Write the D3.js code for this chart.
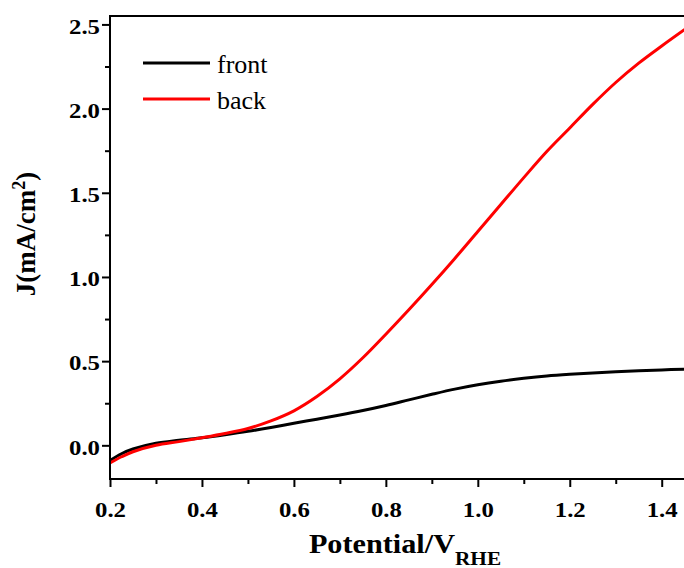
<!DOCTYPE html>
<html>
<head>
<meta charset="utf-8">
<script src="https://cdn.jsdelivr.net/npm/d3@7"></script>
<style>
  body { margin: 0; background: #fff; }
  svg { display: block; }
  .stretch { transform-box: fill-box; transform-origin: center; }
</style>
</head>
<body>
<script>
/* ------------------------------- Data ------------------------------- */
const seriesNames = ["front", "back"];
const seriesColors = ["#000000", "#ff0000"];

const potential = [0.20, 0.225, 0.25, 0.30, 0.35, 0.40, 0.45, 0.50, 0.55, 0.60, 0.65, 0.70, 0.75,
  0.80, 0.85, 0.90, 0.95, 1.00, 1.05, 1.10, 1.15, 1.20, 1.25, 1.30, 1.35, 1.40, 1.45];

const jFront = [-0.090, -0.050, -0.022, 0.012, 0.030, 0.045, 0.063, 0.083, 0.106, 0.131, 0.155, 0.180, 0.207,
  0.237, 0.270, 0.303, 0.334, 0.360, 0.381, 0.398, 0.412, 0.422, 0.430, 0.437, 0.443, 0.448, 0.452];

const jBack = [-0.105, -0.068, -0.038, 0.000, 0.022, 0.045, 0.070, 0.100, 0.145, 0.205, 0.290, 0.395, 0.520,
  0.660, 0.805, 0.955, 1.110, 1.270, 1.430, 1.590, 1.745, 1.885, 2.025, 2.155, 2.270, 2.372, 2.470];

const xTicks = [0.2, 0.4, 0.6, 0.8, 1.0, 1.2, 1.4];
const xMinor = [0.3, 0.5, 0.7, 0.9, 1.1, 1.3];
const yTicks = [0.0, 0.5, 1.0, 1.5, 2.0, 2.5];
const yMinor = [0.25, 0.75, 1.25, 1.75, 2.25];

/* ------------------------------ Layout ------------------------------ */
const width = 684, height = 568;
const plot = { left: 110, right: 687, top: 16, bottom: 479 };

const svg = d3.select("body").append("svg")
  .attr("width", width)
  .attr("height", height);

const x = d3.scaleLinear().domain([0.2, 1.455]).range([plot.left, plot.right]);
const y = d3.scaleLinear().domain([-0.2, 2.55]).range([plot.bottom, plot.top]);

svg.append("clipPath").attr("id", "clip")
  .append("rect")
  .attr("x", plot.left).attr("y", plot.top)
  .attr("width", plot.right - plot.left).attr("height", plot.bottom - plot.top);

/* ------------------------------ Curves ------------------------------ */
const series = [jFront, jBack].map((vals, i) => ({
  name: seriesNames[i],
  color: seriesColors[i],
  values: potential.map((p, k) => ({ x: p, y: vals[k] }))
}));

const line = d3.line()
  .x(d => x(d.x))
  .y(d => y(d.y))
  .curve(d3.curveCatmullRom.alpha(0.5));

svg.append("g")
  .attr("clip-path", "url(#clip)")
  .selectAll("path")
  .data(series)
  .join("path")
  .attr("fill", "none")
  .attr("stroke", d => d.color)
  .attr("stroke-width", 3)
  .attr("stroke-linejoin", "round")
  .attr("d", d => line(d.values));

/* ------------------------------- Axes ------------------------------- */
const tickFont = "'Liberation Serif', 'Times New Roman', Times, serif";

const xAxis = svg.append("g")
  .attr("transform", `translate(0,${plot.bottom})`)
  .call(d3.axisBottom(x).tickValues(xTicks).tickSize(8).tickFormat(d3.format(".1f")));
svg.append("g")
  .attr("transform", `translate(0,${plot.bottom})`)
  .call(d3.axisBottom(x).tickValues(xMinor).tickSize(5).tickFormat(""));

const yAxis = svg.append("g")
  .attr("transform", `translate(${plot.left},0)`)
  .call(d3.axisLeft(y).tickValues(yTicks).tickSize(8).tickFormat(d3.format(".1f")));
svg.append("g")
  .attr("transform", `translate(${plot.left},0)`)
  .call(d3.axisLeft(y).tickValues(yMinor).tickSize(5).tickFormat(""));

svg.selectAll(".domain").remove();
svg.selectAll(".tick line").attr("stroke", "#000").attr("stroke-width", 2);

xAxis.selectAll(".tick text")
  .attr("y", 23)
  .attr("dy", "0.71em")
  .attr("class", "stretch")
  .style("transform", "scaleX(1.18)")
  .style("font", `bold 21px ${tickFont}`)
  .attr("fill", "#000");

yAxis.selectAll(".tick text")
  .attr("x", -10)
  .attr("y", 2)
  .attr("dy", "0.32em")
  .attr("class", "stretch")
  .style("transform-origin", "100% 50%")
  .style("transform", "scaleX(1.18)")
  .style("font", `bold 21px ${tickFont}`)
  .attr("fill", "#000");

// frame (right edge falls outside the picture)
svg.append("rect")
  .attr("x", plot.left).attr("y", plot.top)
  .attr("width", plot.right - plot.left).attr("height", plot.bottom - plot.top)
  .attr("fill", "none")
  .attr("stroke", "#000")
  .attr("stroke-width", 2);

/* ------------------------------ Titles ------------------------------ */
const xTitle = svg.append("text")
  .attr("x", 405)
  .attr("y", 553)
  .attr("text-anchor", "middle")
  .attr("class", "stretch")
  .style("transform", "scaleX(1.12)")
  .style("font", `bold 27px ${tickFont}`)
  .attr("fill", "#000");
xTitle.append("tspan").text("Potential/V");
xTitle.append("tspan").attr("dy", 12).style("font-size", "19px").text("RHE");

const yTitle = svg.append("text")
  .attr("transform", "translate(35,234) rotate(-90)")
  .attr("text-anchor", "middle")
  .style("font", `bold 27px ${tickFont}`)
  .attr("fill", "#000");
yTitle.append("tspan").text("J(mA/cm");
yTitle.append("tspan").attr("dy", -10).style("font-size", "18px").text("2");
yTitle.append("tspan").attr("dy", 10).text(")");

/* ------------------------------ Legend ------------------------------ */
const legend = svg.append("g")
  .selectAll("g")
  .data(series)
  .join("g")
  .attr("transform", (d, i) => `translate(143,${63 + i * 36})`);

legend.append("line")
  .attr("x1", 0).attr("x2", 67)
  .attr("stroke", d => d.color)
  .attr("stroke-width", 3);

legend.append("text")
  .attr("x", 74)
  .attr("y", 10)
  .style("font", `26px ${tickFont}`)
  .attr("fill", "#000")
  .text(d => d.name);
</script>
</body>
</html>
